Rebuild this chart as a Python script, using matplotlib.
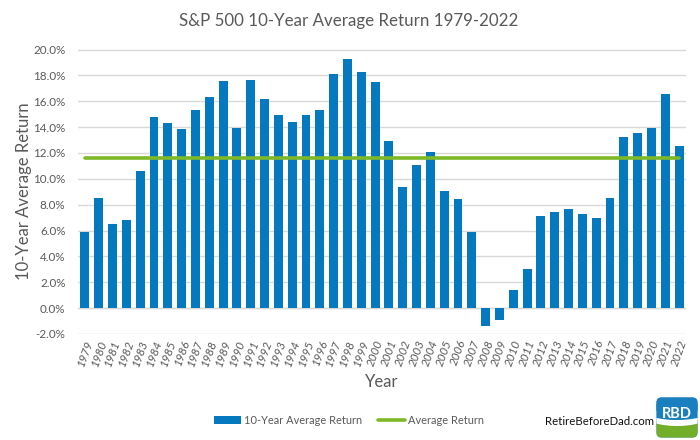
import matplotlib
matplotlib.use("Agg")
import matplotlib.pyplot as plt
from matplotlib.patches import FancyBboxPatch, Ellipse, Rectangle
from matplotlib.ticker import FuncFormatter

plt.rcParams['font.family'] = ['Lato', 'DejaVu Sans']

years = [str(y) for y in range(1979, 2023)]
returns = [5.9, 8.5, 6.5, 6.8, 10.6, 14.8, 14.3, 13.85, 15.3, 16.3, 17.55, 13.95,
           17.65, 16.2, 14.95, 14.4, 14.95, 15.3, 18.1, 19.25, 18.25, 17.5, 12.95,
           9.4, 11.05, 12.05, 9.05, 8.45, 5.9, -1.4, -0.95, 1.4, 3.0, 7.15, 7.45,
           7.7, 7.3, 7.0, 8.55, 13.2, 13.55, 13.95, 16.55, 12.55]
avg_return = [11.6] * len(years)
yticks = [-2, 0, 2, 4, 6, 8, 10, 12, 14, 16, 18, 20]

GREY = '#595959'
fig = plt.figure(figsize=(7, 4.4), dpi=100, facecolor='white')
ax = fig.add_axes([78/700, 1-334/440, 608/700, (334-49.5)/440])
x = list(range(len(years)))
bars = ax.bar(x, returns, width=0.65, color='#0579BF', zorder=2, label='10-Year Average Return')
line, = ax.plot(x, avg_return, color='#7DB928', lw=2.6, zorder=3, solid_capstyle='round', label='Average Return')
ax.set_xlim(-0.5, len(years)-0.5)
ax.set_ylim(-2, 20)
ax.set_yticks(yticks)
ax.yaxis.set_major_formatter(FuncFormatter(lambda v, p: f'{v:.1f}%'))
ax.set_xticks(x)
ax.set_xticklabels(years, rotation=70, ha='center', va='top', fontstyle='italic',
                   rotation_mode='default')
ax.tick_params(axis='x', length=0, labelsize=8.4, labelcolor=GREY, pad=3)
ax.tick_params(axis='y', length=0, labelsize=8.4, labelcolor=GREY, pad=9)
ax.grid(axis='y', color='#D9D9D9', lw=1, zorder=0)
ax.set_axisbelow(True)
for s in ax.spines.values():
    s.set_visible(False)
ax.axhline(0, color='#D9D9D9', lw=1, zorder=1)

fig.text(349/700, 1-21/440, 'S&P 500 10-Year Average Return 1979-2022', ha='center', va='center',
         fontsize=12.2, color=GREY)
fig.text(382/700, 1-382/440, 'Year', ha='center', va='center', fontsize=12, color=GREY)
fig.text(24/700, 1-191/440, '10-Year Average Return', ha='center', va='center', rotation=90,
         fontsize=12, color=GREY)

fig.legend([bars, line], ['10-Year Average Return', 'Average Return'], loc='center',
           bbox_to_anchor=(349/700, 1-420/440), ncol=2, frameon=False,
           fontsize=7.9, labelcolor=GREY, handlelength=2.5, columnspacing=1.4, handletextpad=0.3)

fig.text(654/700, 1-421/440, 'RetireBeforeDad.com', ha='right', va='center', fontsize=8.2, color='#111111')

# logo
lax = fig.add_axes([656/700, 1-438/440, 42/700, 41/440])
lax.set_xlim(0, 42); lax.set_ylim(0, 41); lax.axis('off')
box = FancyBboxPatch((0.5, 0.5), 41, 40, boxstyle='round,pad=0,rounding_size=5', fc='#1A7FBE', ec='none')
lax.add_patch(box)
low = Rectangle((0, 0), 42, 17, fc='#72AE2A', ec='none', zorder=2)
lax.add_patch(low); low.set_clip_path(box)
arc = Ellipse((21, 21), 60, 18, fc='white', ec='none', zorder=3)
lax.add_patch(arc); arc.set_clip_path(box)
blue = Ellipse((21, 27), 64, 18, fc='#1A7FBE', ec='none', zorder=4)
lax.add_patch(blue); blue.set_clip_path(box)
top = Rectangle((0, 27), 42, 14, fc='#1A7FBE', ec='none', zorder=4)
lax.add_patch(top); top.set_clip_path(box)
lax.text(21, 24, 'RBD', ha='center', va='center', color='white', fontsize=10.5, fontweight='bold', zorder=5)

fig.savefig('out.png', dpi=100)
